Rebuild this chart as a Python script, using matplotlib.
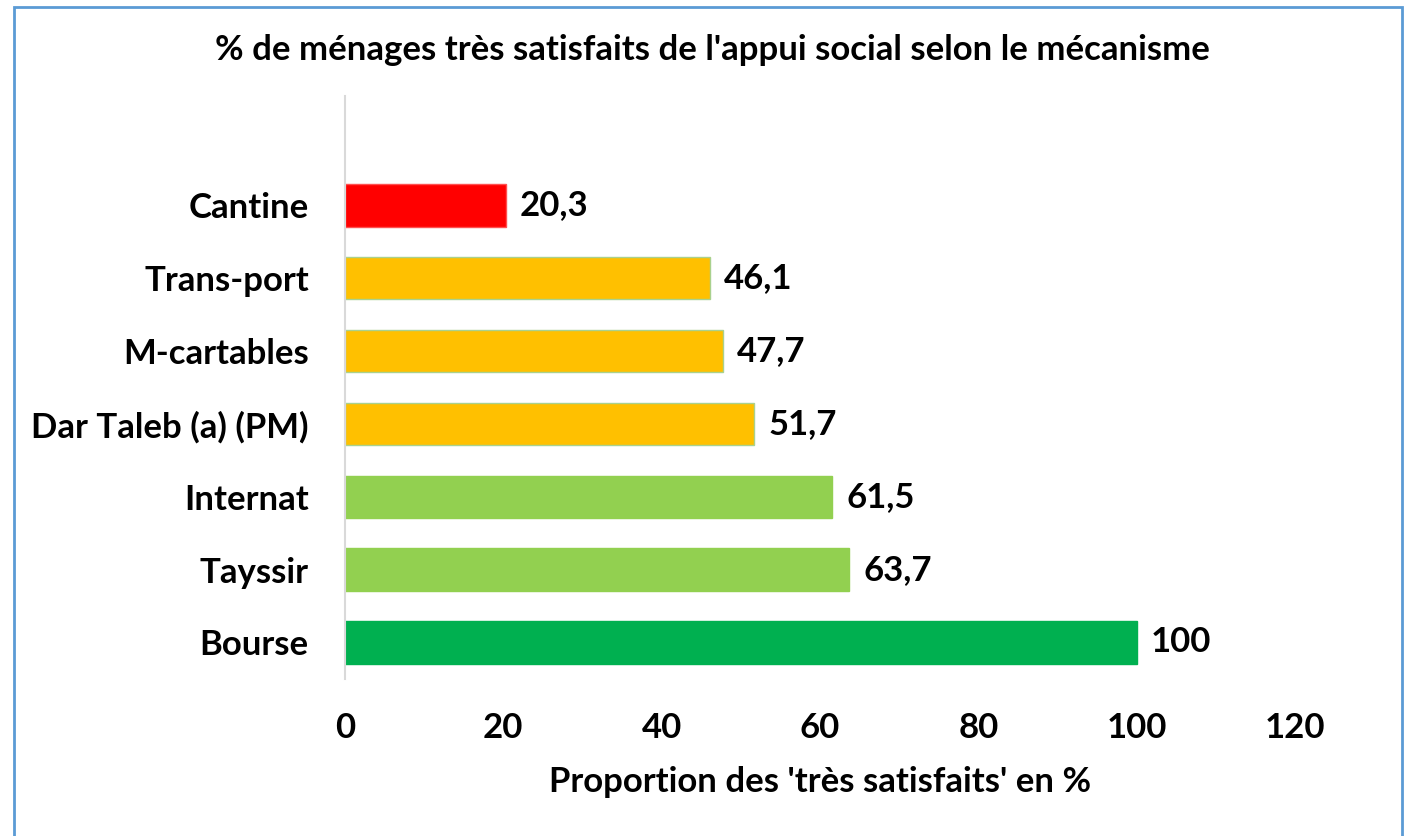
import matplotlib
matplotlib.use("Agg")
import matplotlib.pyplot as plt
from matplotlib.patches import Rectangle

# data, bottom to top as drawn
categories = ["Bourse", "Tayssir", "Internat", "Dar Taleb (a) (PM)", "M-cartables", "Trans-port", "Cantine"]
values = [100, 63.7, 61.5, 51.7, 47.7, 46.1, 20.3]
bar_colors = ["#00B050", "#92D050", "#92D050", "#FFC000", "#FFC000", "#FFC000", "#FF0000"]
edge_colors = ["#00B050", "#92D050", "#92D050", "#A9D18E", "#A9D18E", "#A9D18E", "#FF5050"]
x_ticks = [0, 20, 40, 60, 80, 100, 120]

title = "% de ménages très satisfaits de l'appui social selon le mécanisme"
xlabel = "Proportion des 'très satisfaits' en %"

plt.rcParams['font.family'] = ['Lato', 'DejaVu Sans']
plt.rcParams['font.weight'] = 'bold'
fs = 25

fig = plt.figure(figsize=(14.08, 8.36), dpi=100)
ax = fig.add_axes([0.245, 0.188, 0.6747, 0.697])

ypos = list(range(len(categories)))
ax.barh(ypos, values, height=0.58, color=bar_colors, edgecolor=edge_colors, linewidth=1)

for y, v in zip(ypos, values):
    lab = ("%g" % v).replace(".", ",")
    ax.text(v + 1.8, y, lab, va="center", ha="left", fontsize=fs, fontweight="bold")

ax.set_xlim(0, 120)
ax.set_ylim(-0.5, 7.5)
ax.set_xticks(x_ticks)
ax.set_xticklabels([str(t) for t in x_ticks], fontsize=fs, fontweight="bold")
ax.set_yticks(ypos)
ax.set_yticklabels(categories, fontsize=fs, fontweight="bold")
ax.tick_params(axis="both", length=0)
ax.tick_params(axis="y", pad=26)
ax.tick_params(axis="x", pad=24)

for s in ["top", "right", "bottom"]:
    ax.spines[s].set_visible(False)
ax.spines["left"].set_color("#D9D9D9")
ax.spines["left"].set_linewidth(1.5)

ax.set_xlabel(xlabel, fontsize=fs, fontweight="bold", labelpad=16)
fig.text(0.506, 0.94, title, ha="center", va="center", fontsize=fs, fontweight="bold")

# blue frame around the chart
fig.patches.append(Rectangle((14 / 1408, -0.05), (1402 - 14) / 1408, 1.05 - 7 / 836,
                             transform=fig.transFigure, fill=False,
                             edgecolor="#5B9BD5", linewidth=2))

fig.savefig("out.png", dpi=100)
